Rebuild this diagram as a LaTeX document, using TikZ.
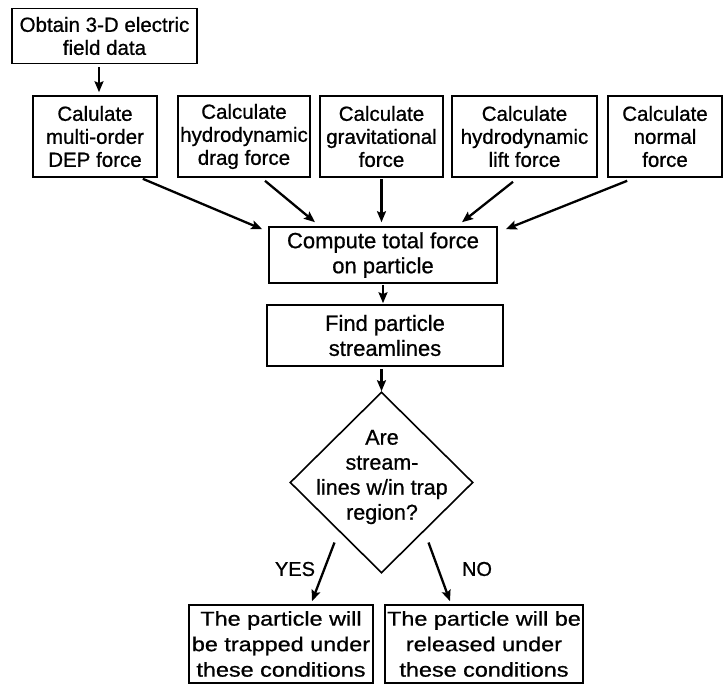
\documentclass[tikz,border=0pt]{standalone}
\usepackage{fontspec}
\setmainfont{Liberation Sans}[FakeBold=0.8]
\newfontfamily\widesans{Liberation Sans}[FakeStretch=1.17,FakeBold=0.8]
\usetikzlibrary{shapes.geometric,arrows.meta,calc}
\begin{document}
\begin{tikzpicture}[x=1pt,y=-1pt,
  box/.style={draw,line width=1.6pt,inner sep=0pt,align=center,
    font=\fontsize{20.5}{23}\selectfont},
  bigbox/.style={box,font=\fontsize{22}{25}\selectfont},
  endbox/.style={box,font=\widesans\fontsize{20}{25.5}\selectfont},
  dia/.style={draw,diamond,line width=1.6pt,inner sep=0pt},
  diatext/.style={align=center,inner sep=0pt,font=\fontsize{21.5}{25}\selectfont},
  lbl/.style={inner sep=0pt,font=\fontsize{20}{24}\selectfont},
  arr/.style={line width=2.3pt,-{Stealth[length=11pt,width=9pt,inset=2pt]}}]
\useasboundingbox[fill=white] (0,0) rectangle (724,685);

\node[box,minimum width=185,minimum height=55] (obtain) at (104.5,36)
  {Obtain 3-D electric\\field data};

\node[box,minimum width=124,minimum height=81] (b1) at (95,136.5)
  {Calulate\\multi-order\\DEP force};
\node[box,minimum width=132,minimum height=81] (b2) at (244,136.5)
  {Calculate\\hydrodynamic\\drag force};
\node[box,minimum width=123,minimum height=81] (b3) at (381.5,136.5)
  {Calculate\\gravitational\\force};
\node[box,minimum width=145,minimum height=81] (b4) at (524.5,136.5)
  {Calculate\\hydrodynamic\\lift force};
\node[box,minimum width=114,minimum height=81] (b5) at (665,136.5)
  {Calculate\\normal\\force};

\node[bigbox,minimum width=228,minimum height=56] (compute) at (383,255)
  {Compute total force\\on particle};
\node[bigbox,minimum width=236,minimum height=61] (find) at (385,335.5)
  {Find particle\\streamlines};

\node[dia,minimum width=183,minimum height=181] (dec) at (381.5,482.5) {};
\node[diatext] (dectext) at (382,477)
  {Are\\stream-\\lines w/in trap\\region?};

\node[endbox,minimum width=184,minimum height=78] (trap) at (281,644)
  {The particle will\\be trapped under\\these conditions};
\node[endbox,minimum width=198,minimum height=78] (rel) at (484,644)
  {The particle will be\\released under\\these conditions};

\node[lbl] (yes) at (295,569) {YES};
\node[lbl] (no) at (477,569) {NO};

\draw[arr] ($(obtain.south)+(-5.5,3)$) -- ($(b1.north)+(4,-3)$);
\draw[arr] ($(b1.south east)+(-15,1)$) -- ($(compute.north west)+(-6,3)$);
\draw[arr] ($(b2.south)+(21,3)$) -- ($(compute.north)+(-68,-4)$);
\draw[arr] ($(b3.south)+(0,1)$) -- ($(b3.south |- compute.north)+(0,-4)$);
\draw[arr] ($(b4.south)+(-11.5,4)$) -- ($(compute.north)+(79,-4)$);
\draw[arr] ($(b5.south west)+(20,3)$) -- ($(compute.north east)+(8,3)$);
\draw[arr] ($(compute.south)+(0,1)$) -- ($(compute.south |- find.north)+(0,-1)$);
\draw[arr] ($(dec.north |- find.south)+(0,2)$) -- (dec.north);
\draw[arr] ($(dec.center)+(-47,60)$) -- ($(trap.north)+(31,-3)$);
\draw[arr] ($(dec.center)+(47,60)$) -- ($(rel.north)+(-34,-3)$);
\end{tikzpicture}
\end{document}
